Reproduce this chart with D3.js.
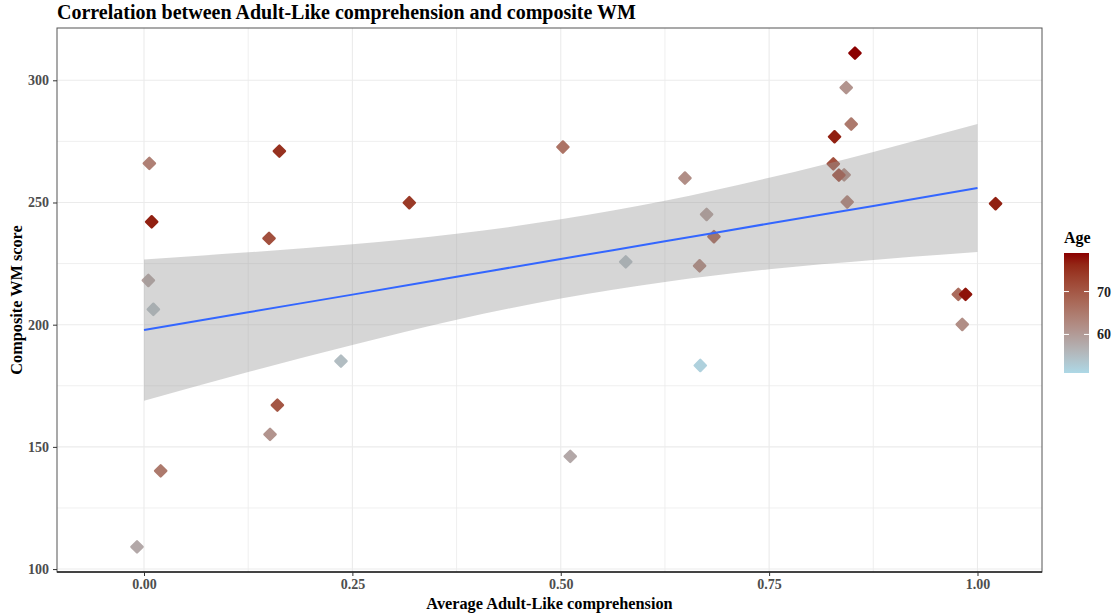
<!DOCTYPE html>
<html>
<head>
<meta charset="utf-8">
<script src="https://cdn.jsdelivr.net/npm/d3@7"></script>
<style>
  body { margin: 0; background: #fff; }
  text { font-family: "Liberation Serif", "Times New Roman", serif; }
</style>
</head>
<body>
<div id="chart"></div>
<script>
// points
const comprehension = [0.853, 0.8425, 0.8485, 0.8285, 0.827, 0.840, 0.8337, 0.8437, 1.0217, 0.977, 0.9857, 0.9817,
  0.0064, 0.0092, 0.1624, 0.150, 0.0052, 0.0112, 0.160, 0.1512, 0.020, -0.0084, 0.5114, 0.3183,
  0.649, 0.675, 0.6838, 0.578, 0.6666, 0.6674, 0.2363, 0.5026];
const wmScore = [311.1, 297.0, 282.1, 276.9, 265.8, 261.3, 261.2, 250.2, 249.5, 212.4, 212.4, 200.1,
  266.0, 242.1, 271.0, 235.3, 218.1, 206.3, 167.1, 155.1, 140.2, 109.1, 146.1, 249.9,
  260.0, 245.1, 236.0, 225.7, 224.1, 183.3, 185.1, 272.7];
const age = [79, 61, 65, 77, 71, 63, 72, 65, 77, 67, 78, 62,
  64, 77, 75, 71, 59, 55, 70, 61, 65, 58, 58, 74,
  62, 60, 69, 55, 64, 52, 55, 66];

// fitted line and confidence band
const smoothX = [0, 0.125, 0.25, 0.375, 0.5, 0.625, 0.75, 0.875, 1.0];
const smoothFit = [197.8, 205.1, 212.3, 219.6, 226.9, 234.1, 241.4, 248.6, 255.9];
const smoothLow = [168.9, 180.6, 191.7, 202.0, 210.7, 217.5, 222.7, 226.5, 229.7];
const smoothHigh = [226.7, 229.6, 232.9, 237.2, 243.1, 250.7, 260.1, 270.7, 282.1];

const xTicks = [0, 0.25, 0.5, 0.75, 1.0];
const xMinor = [0.125, 0.375, 0.625, 0.875];
const yTicks = [100, 150, 200, 250, 300];
const yMinor = [125, 175, 225, 275];
const ageTicks = [60, 70];
const ageRange = [51, 79];

const W = 1116, H = 615;
const L = 57, R = 1042, T = 28, B = 572;

const svg = d3.select('#chart').append('svg')
  .attr('width', W).attr('height', H);

const x = d3.scaleLinear().domain([-0.1044, 1.0774]).range([L, R]);
const y = d3.scaleLinear().domain([98.8, 321.4]).range([B, T]);
const color = d3.scaleLinear().domain(ageRange).range(['#ADD8E6', '#8B0000'])
  .interpolate(d3.interpolateLab);

// grid
const grid = svg.append('g');
grid.selectAll('.vmin').data(xMinor).enter().append('line')
  .attr('x1', d => x(d)).attr('x2', d => x(d)).attr('y1', T).attr('y2', B)
  .attr('stroke', '#ebebeb').attr('stroke-width', 0.8);
grid.selectAll('.hmin').data(yMinor).enter().append('line')
  .attr('y1', d => y(d)).attr('y2', d => y(d)).attr('x1', L).attr('x2', R)
  .attr('stroke', '#ebebeb').attr('stroke-width', 0.8);
grid.selectAll('.vmaj').data(xTicks).enter().append('line')
  .attr('x1', d => x(d)).attr('x2', d => x(d)).attr('y1', T).attr('y2', B)
  .attr('stroke', '#ebebeb').attr('stroke-width', 1.1);
grid.selectAll('.hmaj').data(yTicks).enter().append('line')
  .attr('y1', d => y(d)).attr('y2', d => y(d)).attr('x1', L).attr('x2', R)
  .attr('stroke', '#ebebeb').attr('stroke-width', 1.1);

// points
const r = 5.6;
const diamond = `M0,${-r}L${r},0L0,${r}L${-r},0Z`;
svg.append('g').selectAll('path').data(d3.range(comprehension.length)).enter().append('path')
  .attr('d', diamond)
  .attr('transform', i => 'translate(' + x(comprehension[i]) + ',' + y(wmScore[i]) + ')')
  .attr('fill', i => color(age[i]))
  .attr('stroke', i => color(age[i]))
  .attr('stroke-width', 2.4)
  .attr('stroke-linejoin', 'round');

// smooth band + line
const idx = d3.range(smoothX.length);
svg.append('path')
  .datum(idx)
  .attr('d', d3.area().curve(d3.curveMonotoneX)
    .x(i => x(smoothX[i])).y0(i => y(smoothLow[i])).y1(i => y(smoothHigh[i])))
  .attr('fill', '#999999').attr('fill-opacity', 0.4);
svg.append('path')
  .datum(idx)
  .attr('d', d3.line().curve(d3.curveMonotoneX).x(i => x(smoothX[i])).y(i => y(smoothFit[i])))
  .attr('fill', 'none').attr('stroke', '#3366FF').attr('stroke-width', 2);

// border
svg.append('rect').attr('x', L).attr('y', T).attr('width', R - L).attr('height', B - T)
  .attr('fill', 'none').attr('stroke', '#555').attr('stroke-width', 1);
svg.append('line').attr('x1', L).attr('x2', R).attr('y1', B).attr('y2', B)
  .attr('stroke', '#222').attr('stroke-width', 1.5);

// axes
const xa = svg.append('g').attr('transform', 'translate(0,' + B + ')')
  .call(d3.axisBottom(x).tickValues(xTicks).tickFormat(d3.format('.2f')).tickSize(4).tickSizeOuter(0));
const ya = svg.append('g').attr('transform', 'translate(' + L + ',0)')
  .call(d3.axisLeft(y).tickValues(yTicks).tickSize(4).tickSizeOuter(0));
[xa, ya].forEach(a => {
  a.select('.domain').remove();
  a.selectAll('line').attr('stroke', '#333');
  a.selectAll('text').attr('fill', '#4d4d4d').style('font-size', '14px')
    .style('font-weight', 'bold').style('font-family', '"Liberation Serif", serif');
});
xa.selectAll('text').attr('dy', null).attr('y', 17);
ya.selectAll('text').attr('x', -8);

// titles
svg.append('text').attr('x', L).attr('y', 19)
  .style('font-size', '20px').style('font-weight', 'bold')
  .text('Correlation between Adult-Like comprehension and composite WM');
svg.append('text').attr('x', (L + R) / 2).attr('y', 609).attr('text-anchor', 'middle')
  .style('font-size', '16.3px').style('font-weight', 'bold')
  .text('Average Adult-Like comprehension');
svg.append('text').attr('transform', 'translate(22,' + ((T + B) / 2) + ') rotate(-90)')
  .attr('text-anchor', 'middle')
  .style('font-size', '16.3px').style('font-weight', 'bold')
  .text('Composite WM score');

// legend
const lx = 1064, lt = 253, lb = 373, lw = 25;
const ly = d3.scaleLinear().domain(ageRange).range([lb, lt]);
const defs = svg.append('defs');
const grad = defs.append('linearGradient').attr('id', 'ageGrad')
  .attr('x1', 0).attr('x2', 0).attr('y1', 1).attr('y2', 0);
grad.selectAll('stop').data(d3.range(0, 1.0001, 0.1)).enter().append('stop')
  .attr('offset', d => d)
  .attr('stop-color', d => color(ageRange[0] + d * (ageRange[1] - ageRange[0])));
svg.append('rect').attr('x', lx).attr('y', lt).attr('width', lw).attr('height', lb - lt)
  .attr('fill', 'url(#ageGrad)');
const lt2 = svg.append('g');
lt2.selectAll('.tl').data(ageTicks).enter().append('line')
  .attr('x1', lx).attr('x2', lx + 5).attr('y1', d => ly(d)).attr('y2', d => ly(d))
  .attr('stroke', '#fff').attr('stroke-width', 1);
lt2.selectAll('.tr').data(ageTicks).enter().append('line')
  .attr('x1', lx + lw - 5).attr('x2', lx + lw).attr('y1', d => ly(d)).attr('y2', d => ly(d))
  .attr('stroke', '#fff').attr('stroke-width', 1);
lt2.selectAll('text').data(ageTicks).enter().append('text')
  .attr('x', lx + lw + 8).attr('y', d => ly(d) + 5)
  .style('font-size', '14px').style('font-weight', 'bold').attr('fill', '#222')
  .text(d => d);
svg.append('text').attr('x', lx).attr('y', 243)
  .style('font-size', '16px').style('font-weight', 'bold')
  .text('Age');
</script>
</body>
</html>
